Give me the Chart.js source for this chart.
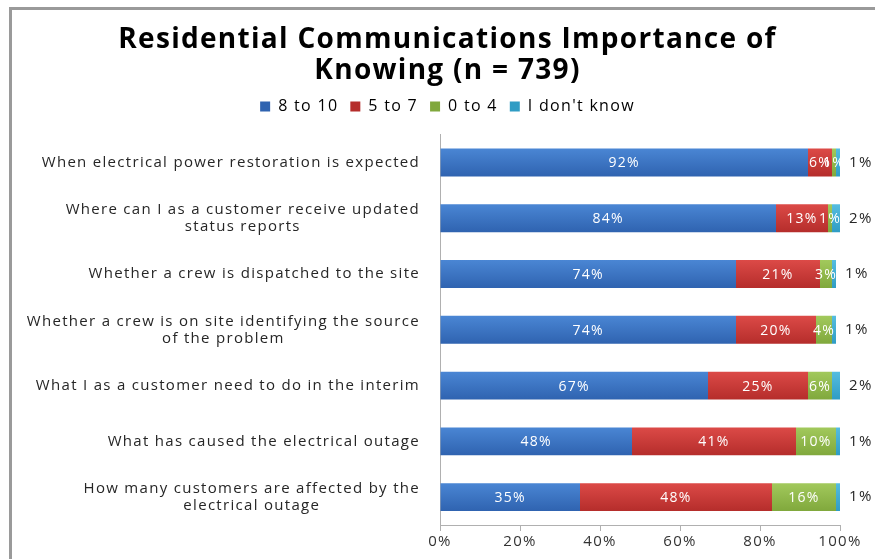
<!DOCTYPE html>
<html>
<head>
<meta charset="utf-8">
<script src="https://cdn.jsdelivr.net/npm/chart.js@4.4.1/dist/chart.umd.min.js"></script>
<style>
    body { margin: 0; background: #fff; }
    #wrap { position: relative; width: 875px; height: 559px; }
    #frame {
        position: absolute; left: 9px; top: 7px; right: 0; bottom: 0;
        border-left: 3px solid #9a9a9a; border-top: 3px solid #9a9a9a;
    }
    canvas { position: absolute; left: 0; top: 0; }
</style>
</head>
<body>
<div id="wrap">
    <div id="frame"></div>
    <canvas id="chart" width="875" height="559"></canvas>
</div>
<script>
const categories = [
    ['When electrical power restoration is expected'],
    ['Where can I as a customer receive updated', 'status reports'],
    ['Whether a crew is dispatched to the site'],
    ['Whether a crew is on site identifying the source', 'of the problem'],
    ['What I as a customer need to do in the interim'],
    ['What has caused the electrical outage'],
    ['How many customers are affected by the', 'electrical outage']
];
const seriesNames = ['8 to 10', '5 to 7', '0 to 4', "I don't know"];
const high = [92, 84, 74, 74, 67, 48, 35];
const mid = [6, 13, 21, 20, 25, 41, 48];
const low = [1, 1, 3, 4, 6, 10, 16];
const dontKnow = [1, 2, 1, 1, 2, 1, 1];
const xTicks = [0, 20, 40, 60, 80, 100];

const FONT = '"Open Sans", "Noto Sans", sans-serif';
const SPACING = '1.3px';
const colors = [
    ['#4a86d4', '#2f63b0'],
    ['#dc4a47', '#b52d2b'],
    ['#a2c95c', '#80a83c'],
    ['#55bde0', '#2f9cc4']
];

function barFill(idx) {
    return function (ctx) {
        const chart = ctx.chart;
        const y = chart.scales && chart.scales.y;
        if (!chart.chartArea || !y || ctx.dataIndex === undefined) return colors[idx][0];
        const cy = y.getPixelForValue(ctx.dataIndex);
        const g = chart.ctx.createLinearGradient(0, cy - 14, 0, cy + 14);
        g.addColorStop(0, colors[idx][0]);
        g.addColorStop(1, colors[idx][1]);
        return g;
    };
}

// the source text is a bit wider than these fonts, so add letter spacing everywhere
const spacingPlugin = {
    id: 'spacing',
    beforeUpdate(chart) { chart.ctx.letterSpacing = SPACING; },
    beforeLayout(chart) { chart.ctx.letterSpacing = SPACING; },
    beforeDraw(chart) { chart.ctx.letterSpacing = SPACING; }
};

const labelPlugin = {
    id: 'labels',
    afterDraw(chart) {
        const ctx = chart.ctx;
        const y = chart.scales.y;
        ctx.save();
        ctx.letterSpacing = SPACING;
        // category labels
        ctx.font = '15px ' + FONT;
        ctx.fillStyle = '#262626';
        ctx.textBaseline = 'middle';
        ctx.textAlign = 'center';
        const right = chart.chartArea.left - 20;
        categories.forEach((lines, i) => {
            const cy = y.getPixelForValue(i);
            const w = Math.max(...lines.map(l => ctx.measureText(l).width));
            const lh = 17;
            const top = cy - (lines.length - 1) * lh / 2;
            lines.forEach((l, k) => ctx.fillText(l, right - w / 2, top + k * lh));
        });
        // value labels
        chart.data.datasets.forEach((ds, di) => {
            const meta = chart.getDatasetMeta(di);
            meta.data.forEach((bar, i) => {
                const txt = ds.data[i] + '%';
                if (di < 3) {
                    ctx.font = '14px ' + FONT;
                    ctx.fillStyle = '#ffffff';
                    ctx.textAlign = 'center';
                    ctx.fillText(txt, (bar.x + bar.base) / 2, bar.y + 1);
                } else {
                    ctx.font = '15px ' + FONT;
                    ctx.fillStyle = '#262626';
                    ctx.textAlign = 'left';
                    ctx.fillText(txt, bar.x + 9, bar.y);
                }
            });
        });
        ctx.restore();
    }
};

const data = {
    labels: categories,
    datasets: [high, mid, low, dontKnow].map((vals, i) => ({
        label: seriesNames[i],
        data: vals,
        backgroundColor: barFill(i),
        borderWidth: 0,
        barPercentage: 0.5,
        categoryPercentage: 1
    }))
};

new Chart(document.getElementById('chart'), {
    type: 'bar',
    data: data,
    options: {
        indexAxis: 'y',
        responsive: false,
        animation: false,
        layout: { padding: { left: 55, right: 35, top: 10, bottom: 6 } },
        plugins: {
            title: {
                display: true,
                text: ['Residential Communications Importance of', 'Knowing (n = 739)'],
                color: '#000',
                font: { family: FONT, size: 28, weight: 'bold', lineHeight: 1.1 },
                padding: { top: 15, bottom: 0 }
            },
            legend: {
                position: 'top',
                labels: {
                    color: '#333',
                    font: { family: FONT, size: 16 },
                    boxWidth: 10,
                    boxHeight: 10,
                    padding: 12,
                    generateLabels(chart) {
                        return chart.data.datasets.map((ds, i) => ({
                            text: ds.label,
                            fillStyle: colors[i][1],
                            strokeStyle: colors[i][1],
                            lineWidth: 0,
                            datasetIndex: i
                        }));
                    }
                }
            },
            tooltip: { enabled: false }
        },
        scales: {
            x: {
                stacked: true,
                min: 0,
                max: 100,
                afterBuildTicks(scale) {
                    scale.ticks = xTicks.map(v => ({ value: v }));
                },
                ticks: {
                    color: '#333',
                    font: { family: FONT, size: 15 },
                    padding: 2,
                    callback: v => v + '%'
                },
                grid: { drawOnChartArea: false, tickLength: 6, color: '#b0b0b0' },
                border: { color: '#b0b0b0' }
            },
            xTop: {
                type: 'linear',
                position: 'top',
                display: true,
                ticks: { display: false },
                grid: { display: false, drawTicks: false },
                border: { display: false },
                afterFit(scale) { scale.height = 10; }
            },
            y: {
                stacked: true,
                ticks: { display: false },
                grid: { display: false, drawTicks: false },
                border: { display: true, color: '#b0b0b0' },
                afterFit(scale) { scale.width = 385; }
            }
        }
    },
    plugins: [spacingPlugin, labelPlugin]
});
</script>
</body>
</html>
